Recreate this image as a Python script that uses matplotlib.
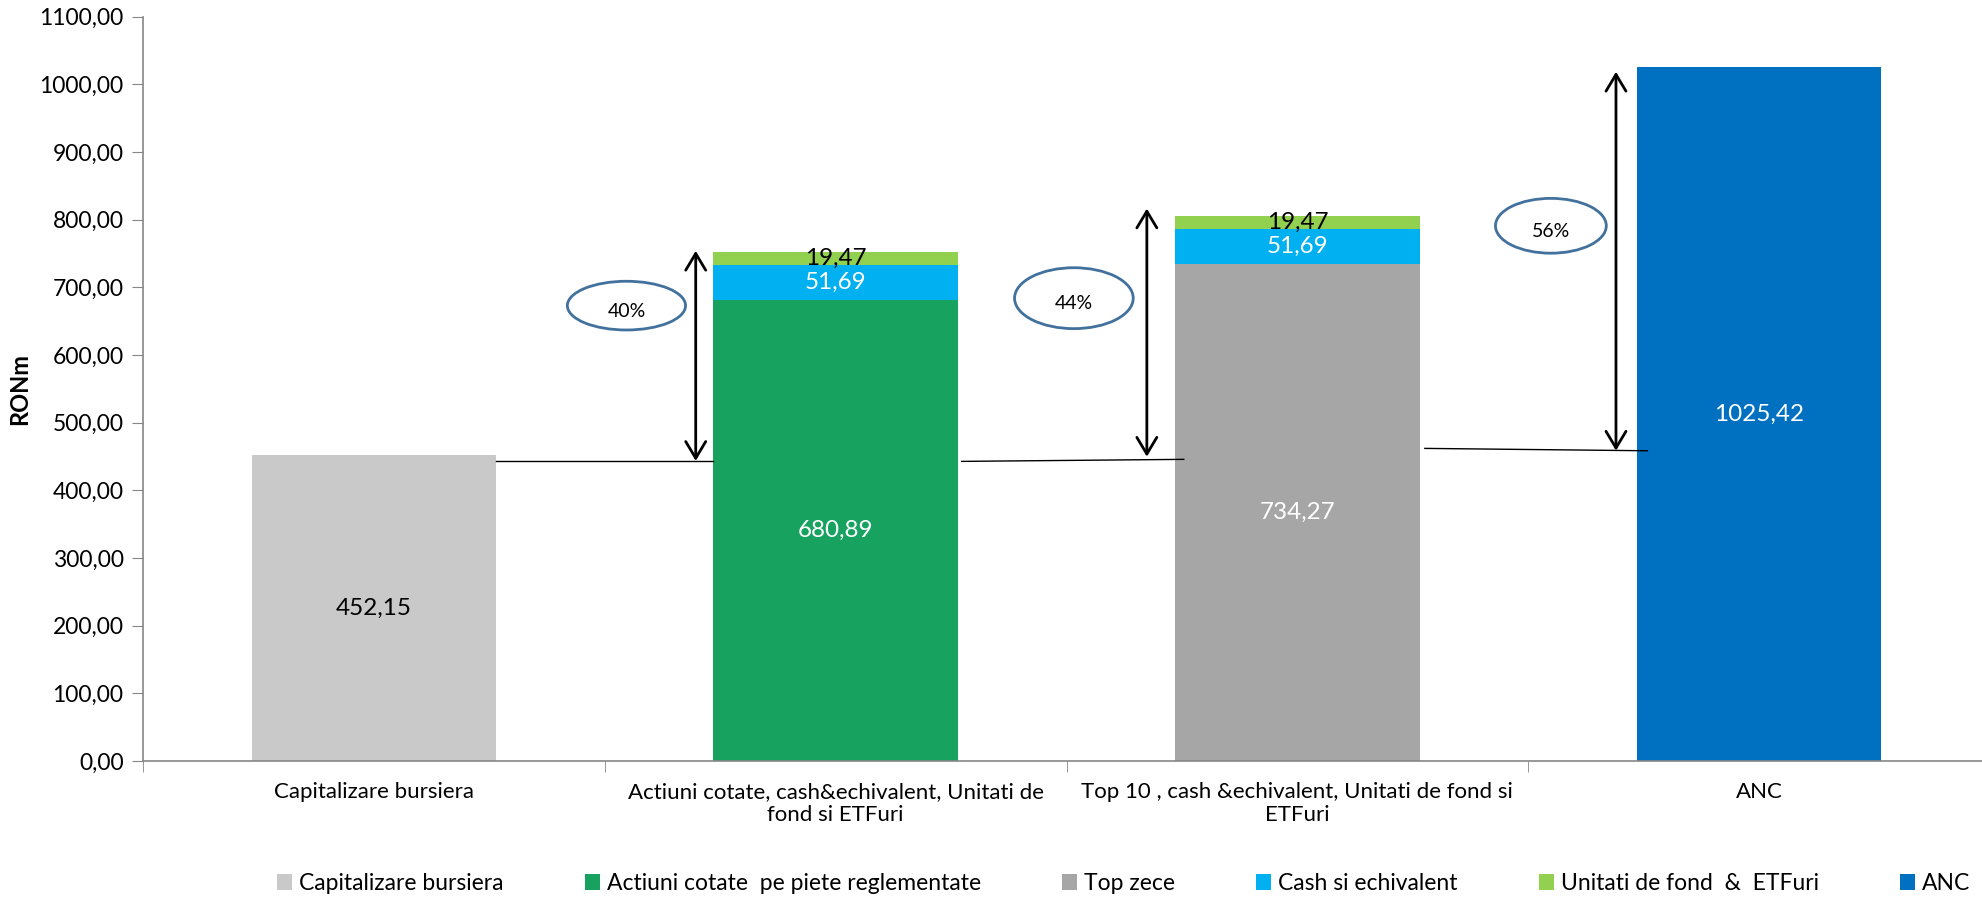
import matplotlib
matplotlib.use("Agg")
import matplotlib.pyplot as plt
from matplotlib.patches import Ellipse, Patch
import numpy as np

plt.rcParams['font.family'] = ['Lato', 'DejaVu Sans']

# ---- data ----
categories = ["Capitalizare bursiera",
              "Actiuni cotate, cash&echivalent, Unitati de\nfond si ETFuri",
              "Top 10 , cash &echivalent, Unitati de fond si\nETFuri",
              "ANC"]
series_names = ["Capitalizare bursiera", "Actiuni cotate  pe piete reglementate",
                "Top zece", "Cash si echivalent", "Unitati de fond  &  ETFuri", "ANC"]
capitalizare = [452.15, 0, 0, 0]
actiuni = [0, 680.89, 0, 0]
top_zece = [0, 0, 734.27, 0]
cash = [0, 51.69, 51.69, 0]
unitati = [0, 19.47, 19.47, 0]
anc = [0, 0, 0, 1025.42]
pct_labels = ["40%", "44%", "56%"]
yticks = list(range(0, 1101, 100))

colors = ["#C9C9C9", "#17A35F", "#A6A6A6", "#00B0F0", "#92D050", "#0070C0"]
label_colors = ["black", "white", "white", "white", "black", "white"]

fig = plt.figure(figsize=(19.82, 8.97), dpi=100)
ax = fig.add_axes([143/1982, 136/897, (1990-143)/1982, (761-16.7)/897])

x = np.arange(len(categories))
w = 0.529
series = [capitalizare, actiuni, top_zece, cash, unitati, anc]

def fmt(v):
    return f"{v:.2f}".replace(".", ",")

b = np.zeros(len(categories))
for i, s in enumerate(series):
    s = np.array(s, dtype=float)
    if i == 5:
        bot = np.zeros(len(categories))
    else:
        bot = b.copy()
    ax.bar(x, s, w, bottom=bot, color=colors[i], zorder=2)
    for j, v in enumerate(s):
        if v > 0:
            ax.text(x[j], bot[j] + v / 2, fmt(v), ha="center", va="center",
                    color=label_colors[i], fontsize=17.5, zorder=5)
    if i != 5:
        b = b + s

# connector lines
ax.plot([0.264, 0.734], [443.3, 443.3], color="black", lw=1.0, zorder=3)
ax.plot([1.273, 1.754], [442.8, 445.8], color="black", lw=1.0, zorder=3)
ax.plot([2.276, 2.758], [462.0, 458.5], color="black", lw=1.0, zorder=3)

# arrows
arrows = [(0.697, 443.5, 754.0), (1.674, 449.7, 816.5), (2.690, 458.6, 1018.6)]
for ax_x, y0, y1 in arrows:
    ax.annotate("", xy=(ax_x, y1), xytext=(ax_x, y0),
                arrowprops=dict(arrowstyle="<->,head_length=0.6,head_width=0.36",
                                mutation_scale=20, lw=2.0, color="black",
                                shrinkA=0, shrinkB=0), zorder=4)

# ellipses with percentages
ells = [(0.547, 673, 0.256, 72), (1.516, 684, 0.257, 90), (2.549, 791, 0.240, 81)]
for (ex, ey, ew, eh), t in zip(ells, pct_labels):
    ax.add_patch(Ellipse((ex, ey), ew, eh, facecolor="white", edgecolor="#41719C",
                         lw=2.0, zorder=4))
    ax.text(ex, ey - 8, t, ha="center", va="center", fontsize=14, zorder=5)

ax.set_xlim(-0.5, 3.5)
ax.set_ylim(0, 1100)
ax.set_yticks(yticks)
ax.set_yticklabels([fmt(v) for v in yticks], fontsize=16.5)
ax.set_xticks(x)
ax.set_xticklabels(categories, fontsize=16)
ax.set_xticks(np.arange(-0.5, 3.6, 1), minor=True)
ax.tick_params(axis="x", which="major", length=0, pad=15)
ax.tick_params(axis="x", which="minor", length=8, color="#868686")
ax.tick_params(axis="y", length=8, color="#868686", pad=6)
for s in ["top", "right"]:
    ax.spines[s].set_visible(False)
for s in ["left", "bottom"]:
    ax.spines[s].set_color("#868686")
    ax.spines[s].set_linewidth(1.2)
ax.set_ylabel("RONm", fontsize=17, fontweight="bold", labelpad=6)

handles = [Patch(facecolor=c, edgecolor="none") for c in colors]
fig.legend(handles, series_names, loc="center", bbox_to_anchor=(0.567, 0.015),
           ncol=6, frameon=False, fontsize=16.5, handlelength=0.65, handleheight=0.7,
           handletextpad=0.3, columnspacing=3.55, borderpad=0)

fig.savefig("out.png", dpi=100)
